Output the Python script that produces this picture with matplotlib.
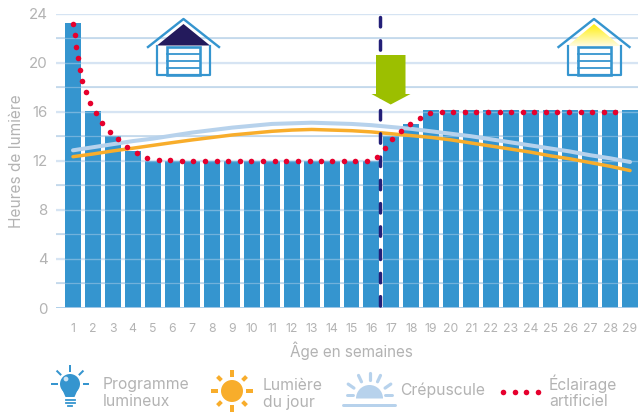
#!/usr/bin/env python3
# Heures de lumiere par semaine - programme lumineux, lumiere du jour, crepuscule
import numpy as np
import matplotlib
matplotlib.use("Agg")
import matplotlib.pyplot as plt
from matplotlib.patches import Circle, Polygon, Rectangle, Wedge

plt.rcParams['font.family'] = ['Inter', 'DejaVu Sans']

weeks = list(range(1, 30))
programme = [23.2, 16.05, 14, 12.8, 12, 12, 12, 12, 12, 12, 12, 12, 12, 12, 12, 12,
             14, 15, 16.1, 16.1, 16.1, 16.1, 16.1, 16.1, 16.1, 16.1, 16.1, 16.1, 16.1]
jour = [12.33, 12.55, 12.8, 13.02, 13.25, 13.48, 13.7, 13.9, 14.1, 14.25, 14.4, 14.5, 14.55, 14.5, 14.45,
        14.35, 14.2, 14.05, 13.9, 13.7, 13.45, 13.2, 12.95, 12.7, 12.4, 12.15, 11.85, 11.55, 11.2]
crepuscule = [12.85, 13.1, 13.35, 13.6, 13.8, 14.05, 14.3, 14.5, 14.7, 14.85, 15.0, 15.05, 15.1, 15.05, 15.0,
              14.9, 14.75, 14.6, 14.4, 14.2, 14.0, 13.75, 13.5, 13.25, 13.0, 12.75, 12.45, 12.2, 11.9]
eclairage_x = [1.02, 1.10, 1.17, 1.25, 1.35, 1.47, 1.65, 1.87, 2.14, 2.47, 2.84, 3.26, 3.71, 4.20, 4.72,
               5.31, 5.87, 6.46, 7.05, 7.63, 8.22, 8.80, 9.39, 9.97, 10.56, 11.14, 11.72, 12.31, 12.89,
               13.47, 14.02, 14.60, 15.19, 15.76, 16.28, 16.66, 17.05, 17.47, 17.94, 18.43, 18.96, 19.53,
               20.11, 20.70, 21.27, 21.85, 22.44, 23.03, 23.60, 24.18, 24.77, 25.34, 25.92, 26.51, 27.08,
               27.67, 28.25]
eclairage_y = [23.12, 22.22, 21.27, 20.35, 19.42, 18.5, 17.58, 16.71, 15.89, 15.1, 14.37, 13.75, 13.15, 12.61,
               12.25, 12.09, 12.04, 12.0, 12.0, 12.0, 12.0, 12.0, 12.0, 12.0, 12.0, 12.0, 12.0, 12.0, 12.0,
               12.0, 12.0, 12.0, 12.0, 12.0, 12.33, 13.04, 13.75, 14.4, 14.97, 15.46, 15.87, 15.95,
               16, 16, 16, 16, 16, 16, 16, 16, 16, 16, 16, 16, 16, 16, 16]
y_ticks = [0, 4, 8, 12, 16, 20, 24]
grid_light = [4, 8, 12, 16, 20, 24]
grid_dark = [2, 6, 10, 14, 18, 22]

BLUE = '#3595cf'
GREY = '#b3b3b3'
ORANGE = '#f8ad2b'
PALE = '#b7d2ec'
RED = '#e6002d'
NAVY = '#231f78'

W, H = 643, 412
fig = plt.figure(figsize=(W / 100, H / 100), dpi=100)
ax = fig.add_axes([56 / W, 1 - 308 / H, (638 - 56) / W, (308 - 13.5) / H])

ax.bar(weeks, programme, width=0.8, color=BLUE, zorder=2)
# grid is solid on white, only a faint trace across the bars
for v in grid_light:
    ax.axhline(v, color='#d6e4f3', lw=1.6, zorder=1)
    ax.axhline(v, color='#d6e4f3', lw=1.0, alpha=0.4, zorder=3)
for v in grid_dark:
    ax.axhline(v, color='#bcd4ea', lw=1.1, zorder=1)
    ax.axhline(v, color='#bcd4ea', lw=0.9, alpha=0.45, zorder=3)
ax.axhline(0, color='#a9cbe8', lw=1.3, zorder=3)

ax.plot(weeks, crepuscule, color=PALE, lw=2.9, solid_capstyle='round', zorder=4)
ax.plot(weeks, jour, color=ORANGE, lw=2.5, solid_capstyle='round', zorder=5)
ax.axvline(16.43, ymin=0.989, ymax=0, color=NAVY, lw=2.5, dashes=(2.7, 4.0), dash_capstyle='round', zorder=6)
ax.plot(eclairage_x, eclairage_y, 'o', color=RED, ms=4.0, mew=0, zorder=7)

ax.set_xlim(0.146, 29.4)
ax.set_ylim(0, 24)
ax.set_xticks(weeks)
ax.set_yticks(y_ticks)
ax.tick_params(axis='both', length=0, colors=GREY)
ax.tick_params(axis='x', labelsize=8.8, pad=10.5)
ax.tick_params(axis='y', labelsize=10.8, pad=6)
for s in ax.spines.values():
    s.set_visible(False)
ax.set_facecolor('none')

# overlay in pixels for the arrow, the houses and the legend icons
ov = fig.add_axes([0, 0, 1, 1], zorder=10)
ov.set_xlim(0, W)
ov.set_ylim(H, 0)
ov.axis('off')


def px(v):
    return v * 0.72


def house(x0, top_col):
    cx = x0 + 35.5
    if isinstance(top_col, str):
        ov.add_patch(Polygon([(x0 + 9, 45.5), (cx, 24), (x0 + 62, 45.5)], color=top_col, lw=0))
    else:
        tri = Polygon([(x0 + 9, 46), (cx, 24), (x0 + 62, 46)], transform=ov.transData, fc='none', lw=0)
        ov.add_patch(tri)
        im = ov.imshow(np.linspace(0, 1, 50).reshape(-1, 1), cmap=top_col, aspect='auto',
                       extent=(x0 + 9, x0 + 62, 46, 24), zorder=1)
        im.set_clip_path(tri)
        ov.set_xlim(0, W)
        ov.set_ylim(H, 0)
    ov.plot([x0, cx, x0 + 71], [47, 19, 47], color=BLUE, lw=px(2.4), zorder=3)
    ov.plot([x0 + 9, x0 + 9, x0 + 62, x0 + 62], [46, 75, 75, 46], color=BLUE, lw=px(2.2), zorder=3)
    ov.add_patch(Rectangle((x0 + 19, 47), 33, 28, fc='white', ec=BLUE, lw=px(2.6), zorder=2))
    for yy in (54, 61, 68):
        ov.plot([x0 + 19, x0 + 52], [yy, yy], color=BLUE, lw=px(1.8), zorder=3)


yellow = matplotlib.colors.LinearSegmentedColormap.from_list('jaune', ['#ffee10', '#fffce0'])
house(148, '#231a5c')
house(558.5, yellow)

# green arrow
ov.add_patch(Polygon([(376, 55), (405.5, 55), (405.5, 94), (410.5, 94), (390.7, 104.5), (371.5, 94), (376, 94)],
                     color='#9cbf00', lw=0))

# bulb icon
ov.add_patch(Circle((70, 384), 10, color=BLUE, lw=0))
ov.add_patch(Polygon([(62, 389), (78, 389), (74.5, 397), (65.5, 397)], color=BLUE, lw=0))
for yy in (399.5, 402.5):
    ov.plot([65.5, 74.5], [yy, yy], color=BLUE, lw=px(1.8))
ov.plot([68, 72], [405.5, 405.5], color=BLUE, lw=px(1.8))
for ang in (180, 225, 270, 315, 0):
    a = np.radians(ang)
    ov.plot([70 + 13.5 * np.cos(a), 70 + 18 * np.cos(a)],
            [384 + 13.5 * np.sin(a), 384 + 18 * np.sin(a)], color=BLUE, lw=px(2.0))
ov.add_patch(Circle((66, 379), 2.4, color='#cfe5f5', lw=0))

# sun icon
ov.add_patch(Circle((232, 391), 11, color=ORANGE, lw=0))
for ang in range(0, 360, 45):
    a = np.radians(ang)
    r0, r1 = (14, 21) if ang % 90 == 0 else (15, 20.5)
    ov.plot([232 + r0 * np.cos(a), 232 + r1 * np.cos(a)],
            [391 + r0 * np.sin(a), 391 + r1 * np.sin(a)], color=ORANGE, lw=px(4), solid_capstyle='butt')

# dusk icon
ov.add_patch(Wedge((369.5, 398.5), 13.5, 180, 360, color=PALE, lw=0))
ov.plot([343, 395], [404.5, 404.5], color=PALE, lw=px(3), solid_capstyle='round')
ov.plot([347, 353], [395, 395], color=PALE, lw=px(3), solid_capstyle='round')
ov.plot([385, 392], [395, 395], color=PALE, lw=px(3), solid_capstyle='round')
for ang in (215, 245, 270, 295, 325):
    a = np.radians(ang)
    ov.plot([369.5 + 19 * np.cos(a), 369.5 + 26 * np.cos(a)],
            [399 + 19 * np.sin(a), 399 + 26 * np.sin(a)], color=PALE, lw=px(3.2), solid_capstyle='round')

# dots of the legend
ov.plot([503, 514.5, 526, 538], [392, 392, 392, 392], 'o', color=RED, ms=4.0, mew=0)

# texts
ov.text(17, 161, 'Heures de lumière', color=GREY, fontsize=11.1, rotation=90, ha='center', va='center')
ov.text(351, 351, 'Âge en semaines', color=GREY, fontsize=11.0, ha='center', va='center')
for x, y, s in [(103, 384, 'Programme'), (103, 401, 'lumineux'), (263, 385, 'Lumière'), (263, 402, 'du jour'),
                (400, 390, 'Crépuscule'), (549, 384, 'Éclairage'), (549, 401, 'artificiel')]:
    ov.text(x, y, s, color=GREY, fontsize=11.3, ha='left', va='center')

fig.savefig('out.png', dpi=100)
